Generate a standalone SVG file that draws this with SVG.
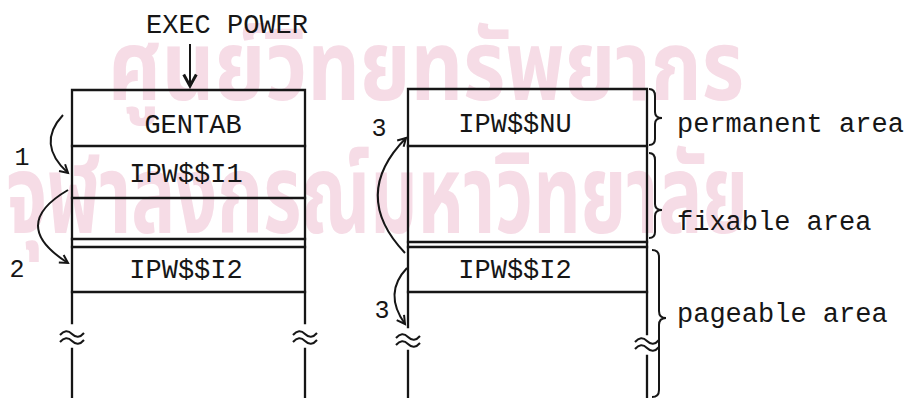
<svg xmlns="http://www.w3.org/2000/svg" width="913" height="398" viewBox="0 0 913 398">
<defs>
<style>
.ln{stroke:#161616;stroke-width:2.3;fill:none;stroke-linecap:square}
.cv{stroke:#161616;stroke-width:2;fill:none}
.t{font-family:"Liberation Mono","Courier New",monospace;font-size:27px;fill:#161616}
.n{font-family:"Liberation Mono","Courier New",monospace;font-size:25px;fill:#161616}
.wm{font-family:"Noto Sans Thai","Noto Sans","DejaVu Sans",sans-serif;fill:#f6dce6;font-weight:bold}
</style>
<marker id="ah" markerWidth="12" markerHeight="12" refX="9" refY="5" orient="auto" markerUnits="userSpaceOnUse" viewBox="0 0 12 10">
<path d="M1,0.5 L9,5 L1,9.5" fill="none" stroke="#161616" stroke-width="2"/>
</marker>
<marker id="ahb" markerWidth="16" markerHeight="16" refX="11" refY="6" orient="auto" markerUnits="userSpaceOnUse" viewBox="0 0 14 12">
<path d="M1,0.5 L11,6 L1,11.5" fill="none" stroke="#161616" stroke-width="2.6"/>
</marker>
<path id="brk" d="M-12,1 Q-6,-6 0,0 T12,-1 M-12,8 Q-6,1 0,7 T12,6" class="cv"/>
</defs>

<g id="watermark">
<text class="wm" x="108" y="100" font-size="98" textLength="636" lengthAdjust="spacingAndGlyphs">ศูนย์วิทยทรัพยากร</text>
<text class="wm" x="6" y="233" font-size="110" textLength="742" lengthAdjust="spacingAndGlyphs">จุฬาลงกรณ์มหาวิทยาลัย</text>
</g>

<g id="exec-power">
<text class="t" x="227" y="33" text-anchor="middle">EXEC POWER</text>
</g>

<g id="left-column">
<g id="left-frame">
<path class="ln" d="M72,90 H305 M72,90 V323 M72,349 V398 M305,90 V323 M305,349 V398"/>
<use href="#brk" x="72" y="334"/>
<use href="#brk" x="305" y="334"/>
</g>
<g id="gentab">
<text class="t" x="193" y="133" text-anchor="middle">GENTAB</text>
<path class="ln" d="M72,146 H305"/>
</g>
<g id="ipw-i1">
<text class="t" x="186" y="182" text-anchor="middle">IPW$$I1</text>
<path class="ln" d="M72,198 H305"/>
</g>
<g id="left-gap">
<path class="ln" d="M72,239 H305 M72,247 H305"/>
</g>
<g id="ipw-i2-left">
<text class="t" x="186" y="278" text-anchor="middle">IPW$$I2</text>
<path class="ln" d="M72,292 H305"/>
</g>
</g>

<g id="right-column">
<g id="right-frame">
<path class="ln" d="M408,89 H647 M408,89 V327 M408,351 V398 M647,89 V334 M647,356 V398"/>
<use href="#brk" x="408" y="337"/>
<use href="#brk" x="647" y="341"/>
</g>
<g id="ipw-nu">
<text class="t" x="515" y="132" text-anchor="middle">IPW$$NU</text>
<path class="ln" d="M408,146 H647"/>
</g>
<g id="right-gap">
<path class="ln" d="M408,242 H647 M408,247 H647"/>
</g>
<g id="ipw-i2-right">
<text class="t" x="515" y="278" text-anchor="middle">IPW$$I2</text>
<path class="ln" d="M408,292 H647"/>
</g>
</g>

<g id="areas">
<g id="permanent-area">
<path class="cv" d="M649,89 Q655,89 655,96 L655,112 Q655,118 662,118 Q655,118 655,124 L655,139 Q655,145 649,145"/>
<text class="t" x="677" y="132">permanent area</text>
</g>
<g id="fixable-area">
<path class="cv" d="M649,153 Q655,153 655,160 L655,204 Q655,210 662,210 Q655,210 655,216 L655,232 Q655,238 649,238"/>
<text class="t" x="677" y="230">fixable area</text>
</g>
<g id="pageable-area">
<path class="cv" d="M652,250 Q659,250 659,257 L659,311 Q659,318 666,318 Q659,318 659,325 L659,390 Q659,397 652,397"/>
<text class="t" x="677" y="322">pageable area</text>
</g>
</g>

<g id="labels">
<text class="n" x="22" y="165" text-anchor="middle">1</text>
<text class="n" x="17" y="277" text-anchor="middle">2</text>
<text class="n" x="379" y="136" text-anchor="middle">3</text>
<text class="n" x="382" y="318" text-anchor="middle">3</text>
</g>

<g id="connectors">
<path class="cv" d="M190,44 V86" marker-end="url(#ahb)"/>
<path class="cv" d="M63,115 Q36,144 68,173" marker-end="url(#ah)"/>
<path class="cv" d="M68,190 Q8,225 68,263" marker-end="url(#ah)"/>
<path class="cv" d="M405,253 Q350,195 406,138" marker-end="url(#ah)"/>
<path class="cv" d="M407,268 Q383,293 405,324" marker-end="url(#ah)"/>
</g>
</svg>
